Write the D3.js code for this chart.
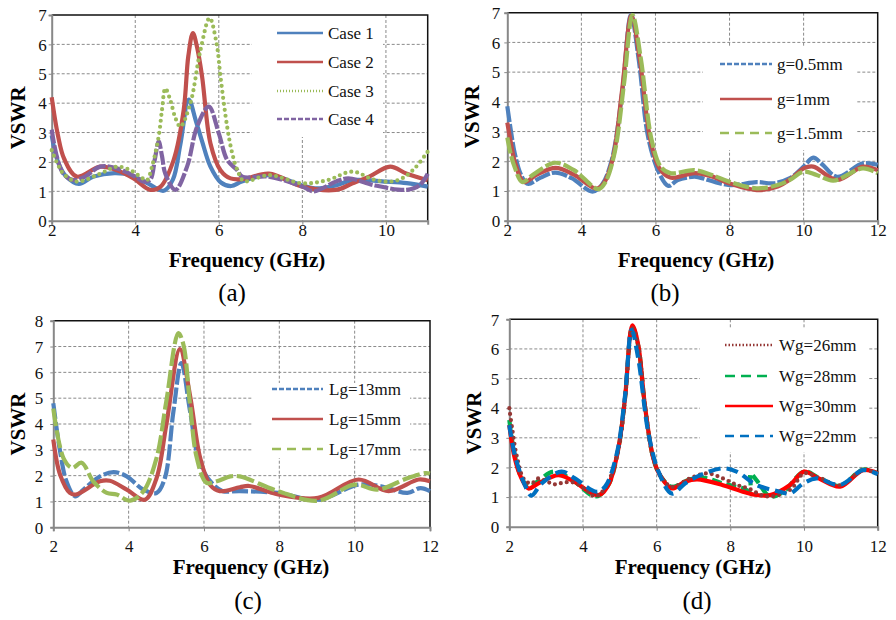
<!DOCTYPE html>
<html>
<head>
<meta charset="utf-8">
<script src="https://cdn.jsdelivr.net/npm/d3@7"></script>
<style>
  body { margin: 0; background: #fff; }
  svg { display: block; font-family: "Liberation Serif", "Times New Roman", serif; }
</style>
</head>
<body>
<div id="chart"></div>
<script>
// ---- data: [frequency GHz, VSWR] ----
const case1 = [[2,2.9],[2.15,2.0],[2.35,1.5],[2.65,1.25],[3.0,1.5],[3.5,1.62],[3.9,1.55],[4.3,1.27],[4.68,1.02],[4.9,1.4],[5.08,2.6],[5.28,4.12],[5.45,3.4],[5.6,2.7],[5.8,1.84],[6.05,1.3],[6.3,1.18],[6.55,1.33],[7.2,1.55],[8.0,1.2],[8.3,1.1],[8.8,1.2],[9.2,1.38],[10.0,1.33],[10.5,1.28],[11,1.16]];
const case2 = [[2,4.2],[2.15,2.9],[2.3,2.1],[2.6,1.5],[3.16,1.84],[3.56,1.72],[3.96,1.44],[4.36,1.05],[4.6,1.15],[4.92,2.07],[5.16,3.77],[5.27,5.6],[5.38,6.38],[5.48,5.9],[5.6,4.9],[5.8,2.63],[6.04,1.72],[6.28,1.44],[6.6,1.42],[7.2,1.6],[8.0,1.16],[8.8,1.05],[9.2,1.27],[9.6,1.5],[10.1,1.84],[10.5,1.6],[11,1.38]];
const case3 = [[2,2.4],[2.15,1.9],[2.28,1.6],[2.6,1.33],[3.16,1.6],[3.56,1.84],[3.88,1.72],[4.12,1.5],[4.28,1.38],[4.4,1.84],[4.56,2.86],[4.64,3.77],[4.72,4.5],[4.84,4.1],[4.96,3.5],[5.08,3.2],[5.32,4.0],[5.56,5.8],[5.78,6.9],[5.95,6.0],[6.04,4.9],[6.2,3.2],[6.32,2.3],[6.45,1.7],[6.6,1.35],[7.2,1.55],[8.0,1.27],[8.6,1.38],[9.2,1.67],[9.7,1.4],[10.1,1.33],[10.4,1.45],[10.7,1.8],[11,2.35]];
const case4 = [[2,3.1],[2.12,2.2],[2.28,1.6],[2.52,1.38],[2.8,1.5],[3.16,1.84],[3.56,1.78],[4.0,1.5],[4.2,1.33],[4.36,1.4],[4.47,2.1],[4.56,2.7],[4.64,2.2],[4.72,1.6],[4.96,1.05],[5.24,1.84],[5.48,3.2],[5.76,3.88],[6.0,2.97],[6.2,2.07],[6.44,1.72],[6.56,1.5],[7.2,1.5],[8.0,1.16],[8.27,1.0],[8.8,1.33],[9.1,1.44],[9.74,1.2],[10.5,1.05],[10.8,1.2],[11,1.6]];

const g05 = [[2,3.85],[2.1,3.0],[2.2,2.27],[2.35,1.6],[2.48,1.31],[2.57,1.24],[2.9,1.45],[3.29,1.62],[3.74,1.43],[4.3,0.98],[4.55,1.2],[4.82,2.04],[5.1,4.3],[5.34,6.93],[5.55,5.4],[5.8,2.83],[6.1,1.6],[6.35,1.17],[6.6,1.37],[7.05,1.48],[7.2,1.45],[8.0,1.2],[8.73,1.3],[9.18,1.26],[9.63,1.43],[10.0,1.82],[10.26,2.12],[10.5,1.9],[10.9,1.48],[11.6,1.93],[12,1.88]];
const g1 = [[2,3.3],[2.1,2.6],[2.2,2.0],[2.45,1.3],[2.8,1.55],[3.3,1.78],[3.8,1.55],[4.4,1.08],[4.6,1.25],[4.85,2.1],[5.1,4.4],[5.35,6.9],[5.58,5.4],[5.85,2.8],[6.1,1.78],[6.4,1.45],[6.7,1.5],[7.05,1.6],[7.5,1.5],[8.0,1.25],[8.73,1.03],[9.3,1.15],[9.7,1.45],[10.0,1.76],[10.26,1.82],[10.9,1.37],[11.6,1.82],[12,1.7]];
const g15 = [[2,2.8],[2.1,2.2],[2.2,1.8],[2.4,1.3],[2.7,1.55],[3.29,1.95],[3.8,1.7],[4.46,1.06],[4.65,1.3],[4.9,2.3],[5.15,4.6],[5.38,6.92],[5.6,5.5],[5.9,2.7],[6.15,1.8],[6.4,1.6],[7.05,1.7],[7.5,1.55],[8.0,1.31],[8.73,1.09],[9.3,1.2],[9.63,1.37],[10.0,1.65],[10.35,1.54],[10.8,1.35],[11.6,1.76],[12,1.6]];

const lg13 = [[2,4.8],[2.18,2.94],[2.35,1.78],[2.58,1.2],[2.8,1.46],[3.24,1.97],[3.6,2.14],[3.95,1.97],[4.39,1.46],[4.74,1.33],[4.96,1.9],[5.19,4.5],[5.4,6.36],[5.63,4.5],[5.9,2.43],[6.25,1.65],[6.5,1.4],[6.95,1.4],[7.97,1.33],[9.03,1.07],[10.1,1.65],[10.7,1.59],[11.4,1.33],[11.75,1.52],[12,1.4]];
const lg15 = [[2,3.4],[2.18,2.04],[2.44,1.33],[2.6,1.27],[3.24,1.78],[3.5,1.8],[3.95,1.46],[4.43,1.07],[4.74,1.9],[5.0,3.97],[5.36,6.9],[5.63,5.1],[5.9,2.68],[6.16,1.65],[6.42,1.4],[6.95,1.55],[7.2,1.6],[7.97,1.27],[9.03,1.14],[10.1,1.85],[10.9,1.4],[11.7,1.85],[12,1.78]];
const lg17 = [[2,4.6],[2.27,2.68],[2.5,2.3],[2.75,2.5],[3.06,1.78],[3.42,1.33],[3.68,1.27],[4.04,1.03],[4.39,1.39],[4.74,2.68],[5.0,4.88],[5.32,7.52],[5.45,7.1],[5.63,4.75],[5.81,2.68],[6.07,1.72],[6.34,1.78],[6.7,1.97],[6.95,1.97],[7.97,1.4],[9.03,1.03],[10.0,1.65],[10.6,1.46],[11.4,1.9],[11.87,2.1],[12,2.08]];

const wg26 = [[2,4.0],[2.08,3.3],[2.2,2.4],[2.4,1.6],[2.6,1.46],[2.79,1.63],[3.06,1.5],[3.24,1.43],[3.51,1.5],[3.78,1.48],[4.14,1.18],[4.32,1.02],[4.6,1.3],[4.96,2.6],[5.14,4.3],[5.34,6.7],[5.5,6.1],[5.68,4.1],[5.91,2.3],[6.09,1.74],[6.41,1.35],[6.9,1.63],[7.36,1.8],[7.8,1.63],[8.17,1.41],[8.49,1.29],[8.99,1.02],[9.62,1.24],[10.0,1.8],[10.4,1.66],[10.98,1.4],[11.6,1.9],[12,1.8]];
const wg28 = [[2,3.6],[2.15,2.4],[2.33,1.65],[2.52,1.35],[2.79,1.55],[3.2,1.86],[3.69,1.6],[4.35,1.02],[4.69,1.41],[4.96,2.64],[5.14,4.33],[5.34,6.75],[5.5,6.1],[5.68,4.1],[5.91,2.3],[6.09,1.74],[6.41,1.35],[6.9,1.6],[7.3,1.65],[7.8,1.46],[8.35,1.29],[8.53,1.22],[8.55,1.8],[8.71,1.57],[9.08,1.02],[9.44,1.18],[10.0,1.86],[10.4,1.66],[10.98,1.38],[11.6,1.93],[12,1.8]];
const wg30 = [[2,3.43],[2.15,2.3],[2.33,1.63],[2.52,1.29],[2.79,1.46],[3.33,1.74],[3.69,1.57],[4.42,1.07],[4.69,1.41],[4.96,2.64],[5.14,4.33],[5.34,6.8],[5.5,6.13],[5.68,4.1],[5.91,2.3],[6.09,1.74],[6.41,1.29],[6.77,1.52],[7.1,1.6],[7.8,1.4],[8.3,1.2],[8.71,1.07],[9.08,1.07],[9.62,1.41],[10.0,1.86],[10.4,1.63],[10.98,1.35],[11.6,1.91],[12,1.8]];
const wg22 = [[2,3.43],[2.15,2.42],[2.42,1.41],[2.6,1.05],[2.88,1.46],[3.42,1.86],[3.78,1.63],[4.37,1.18],[4.6,1.35],[4.91,2.42],[5.14,4.4],[5.32,6.64],[5.5,5.68],[5.77,3.2],[6.05,1.86],[6.41,1.12],[6.77,1.46],[7.2,1.75],[7.8,1.97],[8.17,1.86],[8.71,1.41],[9.35,1.18],[9.62,1.12],[9.98,1.46],[10.34,1.63],[10.98,1.41],[11.6,1.91],[12,1.77]];

const xTicksA = [2, 4, 6, 8, 10];
const xTicks = [2, 4, 6, 8, 10, 12];

const width = 896, height = 620;
const serif = "'Liberation Serif', 'Times New Roman', serif";
const svg = d3.select("#chart").append("svg")
    .attr("width", width)
    .attr("height", height);

const panels = [
  { id: "(a)", box: [51.7, 427.7, 15, 220.7], xDom: [2, 11], yMax: 7, ticks: xTicksA,
    tickDy: 15, tickGap: 5, titleX: 247, titleY: 267, vswrX: 25, labX: 232, labY: 301,
    legend: { box: [252, 15, 131, 122], x1: 277, x2: 323, tx: 328, ys: [33, 62, 91, 119] },
    series: [
      { name: "Case 1", data: case1, color: "#4F81BD", dash: null, ldash: null },
      { name: "Case 2", data: case2, color: "#C0504D", dash: null, ldash: null },
      { name: "Case 3", data: case3, color: "#9BBB59", dash: "0 6", ldash: "1 2", round: true },
      { name: "Case 4", data: case4, color: "#8064A2", dash: "14 2", ldash: "5 2" }
    ] },
  { id: "(b)", box: [507.3, 877.7, 12.7, 220.7], xDom: [2, 12], yMax: 7, ticks: xTicks,
    tickDy: 15, tickGap: 7, titleX: 696, titleY: 267, vswrX: 479, labX: 665, labY: 301,
    legend: { box: [703, 47, 154, 103], x1: 720, x2: 772, tx: 777, ys: [64, 99, 133] },
    series: [
      { name: "g=0.5mm", data: g05, color: "#4F81BD", dash: "16 2", ldash: "5 2" },
      { name: "g=1mm", data: g1, color: "#C0504D", dash: null, ldash: null },
      { name: "g=1.5mm", data: g15, color: "#9BBB59", dash: "16 3", ldash: "9 6" }
    ] },
  { id: "(c)", box: [53.3, 430, 320.7, 527.3], xDom: [2, 12], yMax: 8, ticks: xTicks,
    tickDy: 25, tickGap: 10, titleX: 251, titleY: 574, vswrX: 25, labX: 248, labY: 609,
    legend: { box: [253, 383, 157, 75], x1: 272, x2: 323, tx: 329, ys: [389, 419, 449] },
    series: [
      { name: "Lg=13mm", data: lg13, color: "#4F81BD", dash: "16 3", ldash: "5 2" },
      { name: "Lg=15mm", data: lg15, color: "#C0504D", dash: null, ldash: null },
      { name: "Lg=17mm", data: lg17, color: "#9BBB59", dash: "18 4", ldash: "9 6" }
    ] },
  { id: "(d)", box: [509.3, 877.7, 319.3, 526.7], xDom: [2, 12], yMax: 7, ticks: xTicks,
    tickDy: 25, tickGap: 10, titleX: 693, titleY: 574, vswrX: 481, labX: 697, labY: 609,
    legend: { box: [700, 328, 168, 124], x1: 725, x2: 773, tx: 779, ys: [345, 376, 406, 436] },
    series: [
      { name: "Wg=26mm", data: wg26, color: "#953735", dash: "0 6", ldash: "1.5 2", round: true },
      { name: "Wg=28mm", data: wg28, color: "#00B050", dash: "10 5", ldash: "10 6" },
      { name: "Wg=30mm", data: wg30, color: "#FF0000", dash: null, ldash: null },
      { name: "Wg=22mm", data: wg22, color: "#0070C0", dash: "12 6", ldash: "9 6" }
    ] }
];

// order the lines are painted in (legend keeps its own order)
const paintOrder = { "(a)": [0, 1, 3, 2], "(b)": [0, 1, 2], "(c)": [0, 1, 2], "(d)": [1, 2, 0, 3] };

panels.forEach(p => {
  const [l, r, t, b] = p.box;
  const x = d3.scaleLinear().domain(p.xDom).range([l, r]);
  const y = d3.scaleLinear().domain([0, p.yMax]).range([b, t]);
  const g = svg.append("g");

  // grid
  g.append("g").selectAll("line")
    .data(d3.range(1, p.yMax))
    .join("line")
    .attr("x1", l).attr("x2", r)
    .attr("y1", d => y(d)).attr("y2", d => y(d))
    .attr("stroke", "#8a8a8a").attr("stroke-width", 1).attr("stroke-dasharray", "3 2");
  g.append("g").selectAll("line")
    .data(p.ticks.filter(d => d > p.xDom[0] && d < p.xDom[1]))
    .join("line")
    .attr("x1", d => x(d)).attr("x2", d => x(d))
    .attr("y1", t).attr("y2", b)
    .attr("stroke", "#8a8a8a").attr("stroke-width", 1).attr("stroke-dasharray", "3 2");

  // legend background hides the grid
  const lb = p.legend.box;
  g.append("rect").attr("x", lb[0]).attr("y", lb[1]).attr("width", lb[2]).attr("height", lb[3])
    .attr("fill", "#fff");

  // frame: top / right dark, left / bottom grey axes
  g.append("path")
    .attr("d", `M${l},${t}H${r}V${b}`)
    .attr("fill", "none").attr("stroke", "#111").attr("stroke-width", 1.5);

  const xAxis = g.append("g")
    .attr("transform", `translate(0,${b})`)
    .call(d3.axisBottom(x).tickValues(p.ticks).tickSize(4).tickFormat(d3.format("d")));
  xAxis.select(".domain").attr("stroke", "#888").attr("stroke-width", 2);
  xAxis.selectAll(".tick line").attr("stroke", "#888");
  xAxis.selectAll(".tick text")
    .attr("y", p.tickDy).attr("dy", 0)
    .style("font-family", serif).style("font-size", "17px").attr("fill", "#111");

  const yAxis = g.append("g")
    .attr("transform", `translate(${l},0)`)
    .call(d3.axisLeft(y).ticks(p.yMax).tickSize(3).tickFormat(d3.format("d")));
  yAxis.select(".domain").attr("stroke", "#888").attr("stroke-width", 2);
  yAxis.selectAll(".tick line").attr("stroke", "#888");
  yAxis.selectAll(".tick text")
    .attr("x", -p.tickGap).attr("dy", "0.34em")
    .style("font-family", serif).style("font-size", "17px").attr("fill", "#111");

  // curves
  const line = d3.line()
    .x(d => x(d[0]))
    .y(d => y(d[1]))
    .curve(d3.curveCatmullRom.alpha(0.5));

  paintOrder[p.id].forEach(i => {
    const s = p.series[i];
    g.append("path")
      .datum(s.data)
      .attr("d", line)
      .attr("fill", "none")
      .attr("stroke", s.color)
      .attr("stroke-width", 4.2)
      .attr("stroke-linecap", s.round ? "round" : "butt")
      .attr("stroke-linejoin", "round")
      .attr("stroke-dasharray", s.dash);
  });

  // legend
  p.series.forEach((s, i) => {
    const yy = p.legend.ys[i];
    g.append("line")
      .attr("x1", p.legend.x1).attr("x2", p.legend.x2)
      .attr("y1", yy).attr("y2", yy)
      .attr("stroke", s.color).attr("stroke-width", 2.5)
      .attr("stroke-dasharray", s.ldash);
    g.append("text")
      .attr("x", p.legend.tx).attr("y", yy)
      .attr("dy", "0.35em")
      .style("font-family", serif)
      .style("font-size", "17px")
      .attr("fill", "#111")
      .text(s.name);
  });

  // axis titles
  g.append("text")
    .attr("x", p.titleX).attr("y", p.titleY)
    .style("font-family", serif)
    .style("text-anchor", "middle").style("font-weight", "bold").style("font-size", "21px")
    .text("Frequency (GHz)");
  g.append("text")
    .attr("transform", `translate(${p.vswrX},${(t + b) / 2}) rotate(-90)`)
    .style("font-family", serif)
    .style("text-anchor", "middle").style("font-weight", "bold").style("font-size", "21px")
    .text("VSWR");

  // panel letter
  g.append("text")
    .attr("x", p.labX).attr("y", p.labY)
    .style("font-family", serif)
    .style("text-anchor", "middle").style("font-size", "25px")
    .text(p.id);
});
</script>
</body>
</html>
